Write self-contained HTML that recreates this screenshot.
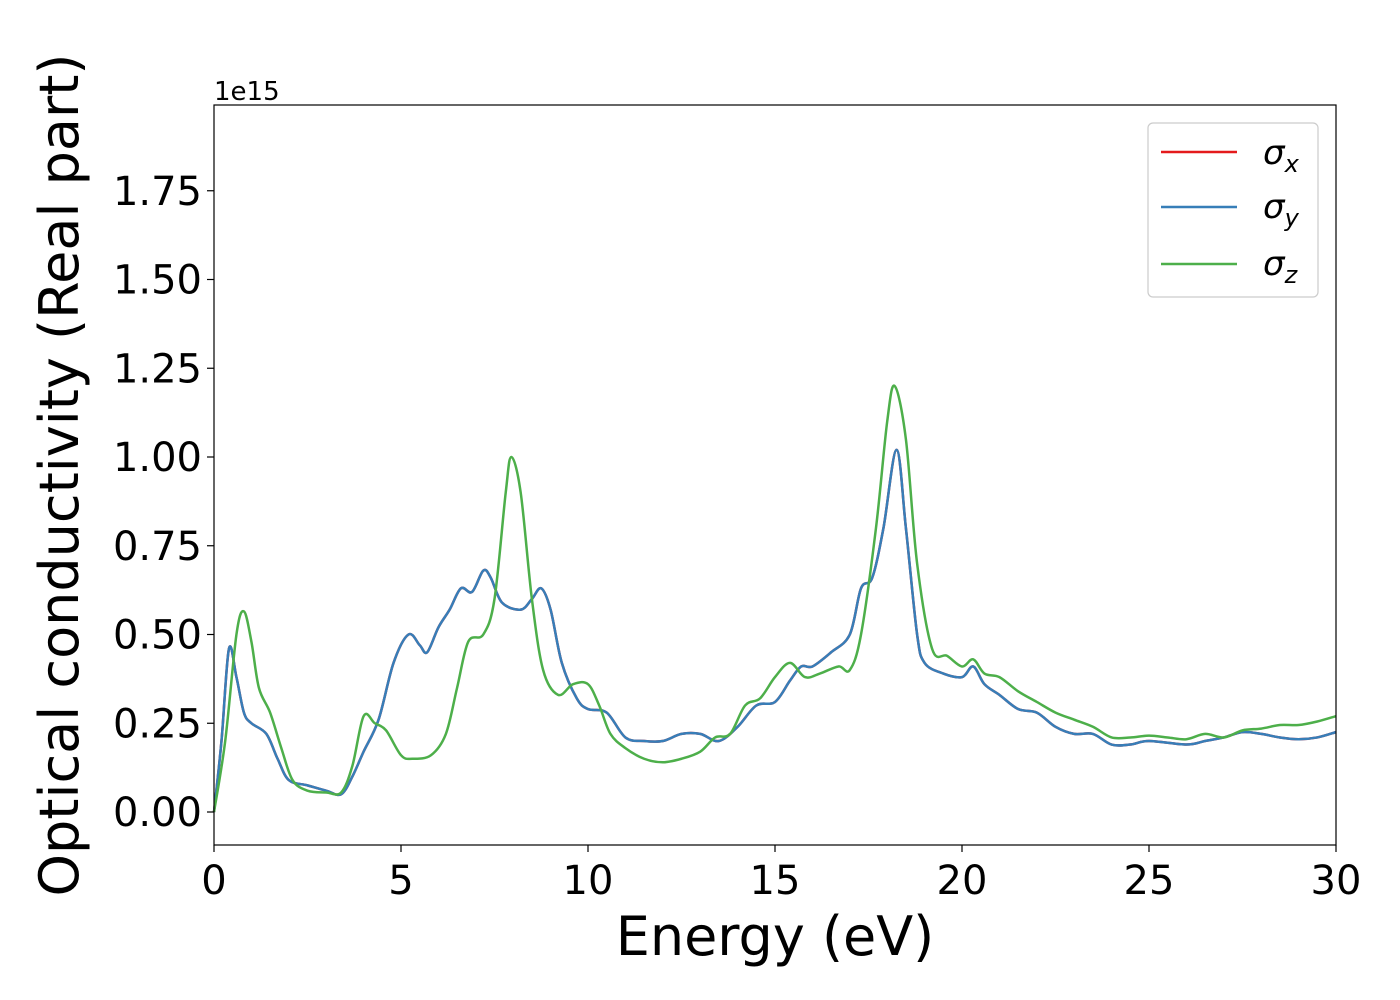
<!DOCTYPE html>
<html><head><meta charset="utf-8"><style>
html,body{margin:0;padding:0;background:#fff;width:1400px;height:1000px;overflow:hidden}
text{font-family:"DejaVu Sans","Liberation Sans",sans-serif}
</style></head><body>
<svg id="chart" width="1400" height="1000" xmlns="http://www.w3.org/2000/svg">
<rect x="214" y="105" width="1122" height="740" fill="#fff"/>
<g id="series"></g>
<rect x="214" y="105" width="1122" height="740" fill="none" stroke="#000" stroke-width="1.2"/>
<g id="xticks"></g>
<g id="yticks"></g>
<text x="214" y="100" font-size="26">1e15</text>
<text x="775" y="955" font-size="54" text-anchor="middle">Energy (eV)</text>
<text transform="translate(78,475) rotate(-90)" font-size="54" text-anchor="middle">Optical conductivity (Real part)</text>
<g>
<rect x="1148" y="123" width="170" height="174" rx="5" fill="#fff" stroke="#ccc" stroke-width="1.2"/>
<line x1="1161" y1="152" x2="1237" y2="152" stroke="#e41a1c" stroke-width="2.5"/>
<text x="1263" y="164" font-size="34" font-style="italic">σ<tspan font-size="24" dy="8">x</tspan></text>
<line x1="1161" y1="207" x2="1237" y2="207" stroke="#377eb8" stroke-width="2.5"/>
<text x="1263" y="218" font-size="34" font-style="italic">σ<tspan font-size="24" dy="8">y</tspan></text>
<line x1="1161" y1="264" x2="1237" y2="264" stroke="#4daf4a" stroke-width="2.5"/>
<text x="1263" y="275" font-size="34" font-style="italic">σ<tspan font-size="24" dy="8">z</tspan></text>
</g>
</svg>
<script>
const xTicks=[0,5,10,15,20,25,30];
const yTicks=[0,0.25,0.5,0.75,1.0,1.25,1.5,1.75];
const yTickLabels=["0.00","0.25","0.50","0.75","1.00","1.25","1.50","1.75"];
const energyXY=[0,0.2,0.4,0.6,0.8,1.0,1.4,1.7,2.0,2.5,3.0,3.4,3.7,4.0,4.4,4.8,5.2,5.5,5.7,6.0,6.3,6.6,6.9,7.2,7.4,7.7,8.2,8.5,8.75,9.0,9.3,9.7,10.0,10.5,11,11.5,12,12.5,13,13.5,14,14.5,15,15.4,15.7,16,16.5,17,17.3,17.6,17.9,18.25,18.5,18.8,19.0,19.5,20.0,20.3,20.6,21,21.5,22,22.5,23,23.5,24,24.5,25,26,26.5,27,27.5,28,28.5,29,29.5,30];
const sigmaX=[0,0.2,0.46,0.38,0.28,0.25,0.22,0.15,0.09,0.075,0.06,0.05,0.1,0.17,0.26,0.42,0.5,0.47,0.45,0.52,0.57,0.63,0.62,0.68,0.66,0.59,0.57,0.6,0.63,0.57,0.42,0.32,0.29,0.28,0.21,0.2,0.2,0.22,0.22,0.2,0.24,0.3,0.31,0.37,0.41,0.41,0.45,0.5,0.63,0.66,0.8,1.02,0.8,0.5,0.42,0.39,0.38,0.41,0.36,0.33,0.29,0.28,0.24,0.22,0.22,0.19,0.19,0.2,0.19,0.2,0.21,0.225,0.22,0.21,0.205,0.21,0.225];
const sigmaY=sigmaX.slice();
const energyZ=[0,0.3,0.6,0.8,1.0,1.2,1.5,1.8,2.1,2.5,3.0,3.4,3.7,4.0,4.3,4.6,5.0,5.3,5.8,6.2,6.5,6.8,7.2,7.5,7.8,7.95,8.2,8.5,8.8,9.2,9.6,10.0,10.3,10.6,11,11.5,12,12.5,13,13.4,13.8,14.2,14.6,15,15.4,15.8,16.2,16.7,17,17.3,17.7,18.0,18.2,18.5,18.8,19.2,19.6,20,20.3,20.6,21,21.5,22,22.5,23,23.5,24,24.5,25,25.5,26,26.5,27,27.5,28,28.5,29,29.5,30];
const sigmaZ=[0,0.2,0.5,0.565,0.48,0.35,0.28,0.18,0.09,0.06,0.055,0.055,0.13,0.27,0.25,0.23,0.16,0.15,0.16,0.22,0.35,0.48,0.5,0.6,0.9,1.0,0.9,0.6,0.4,0.33,0.36,0.36,0.3,0.22,0.18,0.15,0.14,0.15,0.17,0.21,0.22,0.3,0.32,0.38,0.42,0.38,0.39,0.41,0.4,0.5,0.8,1.1,1.2,1.05,0.7,0.46,0.44,0.41,0.43,0.39,0.38,0.34,0.31,0.28,0.26,0.24,0.21,0.21,0.215,0.21,0.205,0.22,0.21,0.23,0.235,0.245,0.245,0.255,0.27];
const NS="http://www.w3.org/2000/svg";
function xs(v){return 214+v/30*1122;}
function ys(v){return 812-v*355;}
function mk(t,a){const e=document.createElementNS(NS,t);for(const k in a)e.setAttribute(k,a[k]);return e;}
const xg=document.getElementById('xticks'),yg=document.getElementById('yticks'),sg=document.getElementById('series');
xTicks.forEach(t=>{
 const l=mk('line',{x1:xs(t),x2:xs(t),y1:845,y2:852,stroke:'#000','stroke-width':1.2});
 
 
 xg.appendChild(l);
 const tx=mk('text',{x:xs(t),y:894,'font-size':40,'text-anchor':'middle'});tx.textContent=t;
 
 
 xg.appendChild(tx);
});
yTicks.forEach((t,i)=>{
 const l=mk('line',{x1:207,x2:214,y1:ys(t),y2:ys(t),stroke:'#000','stroke-width':1.2});
 
 
 yg.appendChild(l);
 const tx=mk('text',{x:202,y:ys(t)+14,'font-size':40,'text-anchor':'end'});tx.textContent=yTickLabels[i];
 
 
 yg.appendChild(tx);
});
function pathD(xsArr,vals){
 const p=xsArr.map((e,i)=>[xs(e),ys(vals[i])]);
 let d='M'+p[0][0]+','+p[0][1];
 for(let i=0;i<p.length-1;i++){
  const p0=p[Math.max(0,i-1)],p1=p[i],p2=p[i+1],p3=p[Math.min(p.length-1,i+2)];
  const c1=[p1[0]+(p2[0]-p0[0])/6,p1[1]+(p2[1]-p0[1])/6];
  const c2=[p2[0]-(p3[0]-p1[0])/6,p2[1]-(p3[1]-p1[1])/6];
  d+=' C'+c1+' '+c2+' '+p2;
 }
 return d;
}
[[energyXY,sigmaX,'#e41a1c','series-sigma-x'],[energyXY,sigmaY,'#377eb8','series-sigma-y'],[energyZ,sigmaZ,'#4daf4a','series-sigma-z']].forEach(s=>{
 const p=mk('path',{d:pathD(s[0],s[1]),fill:'none',stroke:s[2],'stroke-width':2.5});
 
 
 sg.appendChild(p);
});
</script>
</body></html>
